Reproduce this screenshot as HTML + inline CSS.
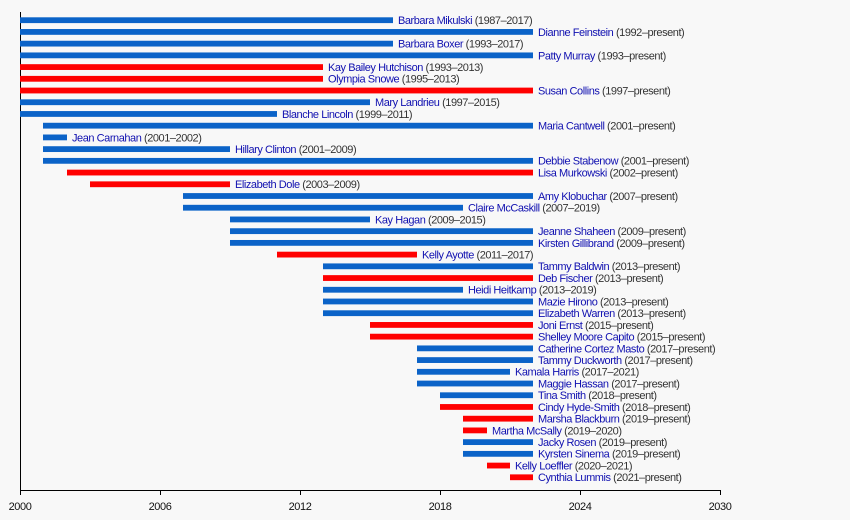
<!DOCTYPE html>
<html><head><meta charset="utf-8"><style>
body{margin:0;background:#f8f8f8;}
svg{display:block;font-family:"Liberation Sans",sans-serif;}
.l{font-size:11px;letter-spacing:-0.45px;fill:#333;}
.n{fill:#1010b0;}
.t{font-size:11px;fill:#111;letter-spacing:-0.4px;}
</style></head><body>
<svg width="850" height="520" xmlns="http://www.w3.org/2000/svg">
<rect width="850" height="520" fill="#f8f8f8"/>
<g id="bars"></g>
<line x1="20.5" y1="12" x2="20.5" y2="490" stroke="#000" stroke-width="1"/>
<line x1="20" y1="490.5" x2="720" y2="490.5" stroke="#000" stroke-width="1"/>
<g stroke="#000">
<line x1="20.5" y1="490" x2="20.5" y2="495"/><line x1="160.5" y1="490" x2="160.5" y2="495"/><line x1="300.5" y1="490" x2="300.5" y2="495"/><line x1="440.5" y1="490" x2="440.5" y2="495"/><line x1="580.5" y1="490" x2="580.5" y2="495"/><line x1="720.5" y1="490" x2="720.5" y2="495"/>
</g>
<g class="t" text-anchor="middle">
<text x="20" y="510">2000</text><text x="160" y="510">2006</text><text x="300" y="510">2012</text><text x="440" y="510">2018</text><text x="580" y="510">2024</text><text x="720" y="510">2030</text>
</g>
<g id="g"></g>
</svg>
<script>
var d=[
["Barbara Mikulski","1987–2017",20,393,"b"],
["Dianne Feinstein","1992–present",20,533,"b"],
["Barbara Boxer","1993–2017",20,393,"b"],
["Patty Murray","1993–present",20,533,"b"],
["Kay Bailey Hutchison","1993–2013",20,323,"r"],
["Olympia Snowe","1995–2013",20,323,"r"],
["Susan Collins","1997–present",20,533,"r"],
["Mary Landrieu","1997–2015",20,370,"b"],
["Blanche Lincoln","1999–2011",20,277,"b"],
["Maria Cantwell","2001–present",43,533,"b"],
["Jean Carnahan","2001–2002",43,67,"b"],
["Hillary Clinton","2001–2009",43,230,"b"],
["Debbie Stabenow","2001–present",43,533,"b"],
["Lisa Murkowski","2002–present",67,533,"r"],
["Elizabeth Dole","2003–2009",90,230,"r"],
["Amy Klobuchar","2007–present",183,533,"b"],
["Claire McCaskill","2007–2019",183,463,"b"],
["Kay Hagan","2009–2015",230,370,"b"],
["Jeanne Shaheen","2009–present",230,533,"b"],
["Kirsten Gillibrand","2009–present",230,533,"b"],
["Kelly Ayotte","2011–2017",277,417,"r"],
["Tammy Baldwin","2013–present",323,533,"b"],
["Deb Fischer","2013–present",323,533,"r"],
["Heidi Heitkamp","2013–2019",323,463,"b"],
["Mazie Hirono","2013–present",323,533,"b"],
["Elizabeth Warren","2013–present",323,533,"b"],
["Joni Ernst","2015–present",370,533,"r"],
["Shelley Moore Capito","2015–present",370,533,"r"],
["Catherine Cortez Masto","2017–present",417,533,"b"],
["Tammy Duckworth","2017–present",417,533,"b"],
["Kamala Harris","2017–2021",417,510,"b"],
["Maggie Hassan","2017–present",417,533,"b"],
["Tina Smith","2018–present",440,533,"b"],
["Cindy Hyde-Smith","2018–present",440,533,"r"],
["Marsha Blackburn","2019–present",463,533,"r"],
["Martha McSally","2019–2020",463,487,"r"],
["Jacky Rosen","2019–present",463,533,"b"],
["Kyrsten Sinema","2019–present",463,533,"b"],
["Kelly Loeffler","2020–2021",487,510,"r"],
["Cynthia Lummis","2021–present",510,533,"r"]];
var ns="http://www.w3.org/2000/svg",g=document.getElementById("g");
d.forEach(function(r,i){
 var y=17.3+i*11.72;
 var re=document.createElementNS(ns,"rect");
 re.setAttribute("x",r[2]);re.setAttribute("y",y);re.setAttribute("width",r[3]-r[2]);re.setAttribute("height",5.8);
 re.setAttribute("fill",r[4]=="b"?"#0b63c8":"#ff0000");g.appendChild(re);
 var t=document.createElementNS(ns,"text");t.setAttribute("class","l");
 t.setAttribute("x",r[3]+5);t.setAttribute("y",y+6.8);
 var a=document.createElementNS(ns,"tspan");a.setAttribute("class","n");a.textContent=r[0];t.appendChild(a);
 var b=document.createElementNS(ns,"tspan");b.textContent=" ("+r[1]+")";t.appendChild(b);
 g.appendChild(t);
});
</script>
</body></html>
